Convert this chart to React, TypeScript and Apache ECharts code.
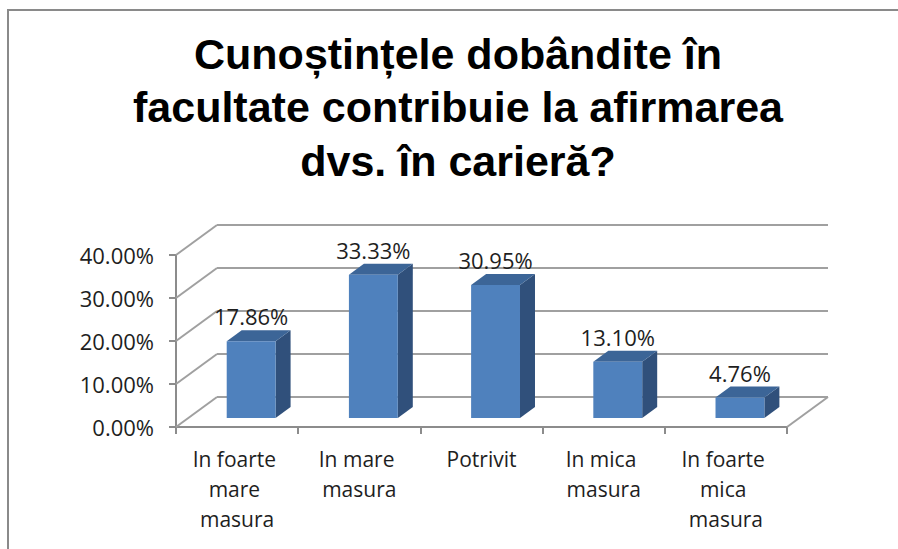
import React, { useEffect, useRef } from "react";
import * as echarts from "echarts";

const titleLines = ["Cunoștințele dobândite în", "facultate contribuie la afirmarea", "dvs. în carieră?"];
const categories = ["In foarte mare masura", "In mare masura", "Potrivit", "In mica masura", "In foarte mica masura"];
const values = [17.86, 33.33, 30.95, 13.1, 4.76];
const yTicks = [0, 10, 20, 30, 40];

const DEPTH_X = 41;
const DEPTH_Y = -30;
const FONT = '"Open Sans", "Liberation Sans", sans-serif';

export default function App() {
  const ref = useRef<HTMLDivElement>(null);
  useEffect(() => {
    if (!ref.current) return;
    const chart = echarts.init(ref.current, null, { renderer: "svg" });
    const gridColor = "#a0a0a0";
    const option: any = {
      animation: false,
      backgroundColor: "#ffffff",
      graphic: [
        {
          type: "rect",
          shape: { x: 8, y: 10, width: 1000, height: 1000 },
          style: { fill: "none", stroke: "#8a8a8a", lineWidth: 2 },
          silent: true,
        },
        {
          type: "text",
          x: 458,
          y: 27,
          style: {
            text: titleLines.join("\n"),
            textAlign: "center",
            textVerticalAlign: "top",
            font: 'bold 43px "Liberation Sans", Arial, sans-serif',
            lineHeight: 53.5,
            fill: "#000000",
          },
        },
      ],
      grid: { left: 176, top: 255, width: 611, height: 172, containLabel: false },
      xAxis: {
        type: "category",
        data: categories,
        boundaryGap: true,
        axisLine: { show: true, lineStyle: { color: "#8c8c8c", width: 2 } },
        axisTick: { show: true, length: 7, alignWithLabel: false, lineStyle: { color: "#8c8c8c", width: 2 } },
        axisLabel: {
          interval: 0,
          margin: 17,
          color: "#1e1e1e",
          fontFamily: FONT,
          fontSize: 21,
          lineHeight: 30,
          width: 106,
          overflow: "break",
          align: "center",
        },
        splitLine: { show: false },
      },
      yAxis: {
        type: "value",
        min: 0,
        max: 40,
        interval: 10,
        axisLine: { show: true, lineStyle: { color: "#8c8c8c", width: 2 } },
        axisTick: { show: true, length: 7, lineStyle: { color: "#8c8c8c", width: 2 } },
        axisLabel: {
          margin: 22,
          color: "#1e1e1e",
          fontFamily: FONT,
          fontSize: 22,
          formatter: (v: number) => v.toFixed(2) + "%",
        },
        splitLine: { show: false },
      },
      series: [
        {
          type: "custom",
          name: "frame",
          z: 1,
          silent: true,
          data: yTicks.map((t) => [0, t]),
          encode: { x: 0, y: 1 },
          renderItem: (params: any, api: any) => {
            const cs = params.coordSys;
            const y = api.coord([0, api.value(1)])[1];
            const x0 = cs.x;
            const x1 = cs.x + cs.width;
            const children: any[] = [
              {
                type: "line",
                shape: { x1: x0, y1: y, x2: x0 + DEPTH_X, y2: y + DEPTH_Y },
                style: { stroke: gridColor, lineWidth: 2 },
              },
              {
                type: "line",
                shape: { x1: x0 + DEPTH_X, y1: y + DEPTH_Y, x2: x1 + DEPTH_X, y2: y + DEPTH_Y },
                style: { stroke: gridColor, lineWidth: 2 },
              },
            ];
            if (api.value(1) === 0) {
              children.push({
                type: "line",
                shape: { x1: x1, y1: y, x2: x1 + DEPTH_X, y2: y + DEPTH_Y },
                style: { stroke: gridColor, lineWidth: 2 },
              });
            }
            return { type: "group", children };
          },
        },
        {
          type: "custom",
          name: "bars",
          z: 5,
          data: values.map((v, i) => [i, v]),
          encode: { x: 0, y: 1 },
          renderItem: (params: any, api: any) => {
            const v = api.value(1);
            const base = api.coord([api.value(0), 0]);
            const top = api.coord([api.value(0), v]);
            const bw = api.size([1, 0])[0];
            const shiftY = -9;
            const left = base[0] - bw * 0.085;
            const right = left + bw * 0.4;
            const bottomY = base[1] + shiftY;
            const topY = top[1] + shiftY;
            const dx = 15;
            const dy = -11;
            return {
              type: "group",
              children: [
                {
                  type: "polygon",
                  shape: { points: [[right, bottomY], [right + dx, bottomY + dy], [right + dx, topY + dy], [right, topY]] },
                  style: { fill: "#30507b" },
                },
                {
                  type: "polygon",
                  shape: { points: [[left, topY], [left + dx, topY + dy], [right + dx, topY + dy], [right, topY]] },
                  style: { fill: "#3c6597" },
                },
                {
                  type: "rect",
                  shape: { x: left, y: topY, width: right - left, height: bottomY - topY },
                  style: { fill: "#4f81bd" },
                },
                {
                  type: "text",
                  x: (left + right) / 2,
                  y: topY - 25,
                  style: {
                    text: v.toFixed(2) + "%",
                    textAlign: "center",
                    textVerticalAlign: "middle",
                    fontFamily: FONT,
                    fontSize: 22,
                    fill: "#1e1e1e",
                  },
                },
              ],
            };
          },
        },
      ],
    };
    chart.setOption(option);
    return () => chart.dispose();
  }, []);
  return (
    <div
      ref={ref}
      style={{ position: "fixed", left: 0, top: 0, width: 898, height: 549, background: "#fff" }}
    />
  );
}
